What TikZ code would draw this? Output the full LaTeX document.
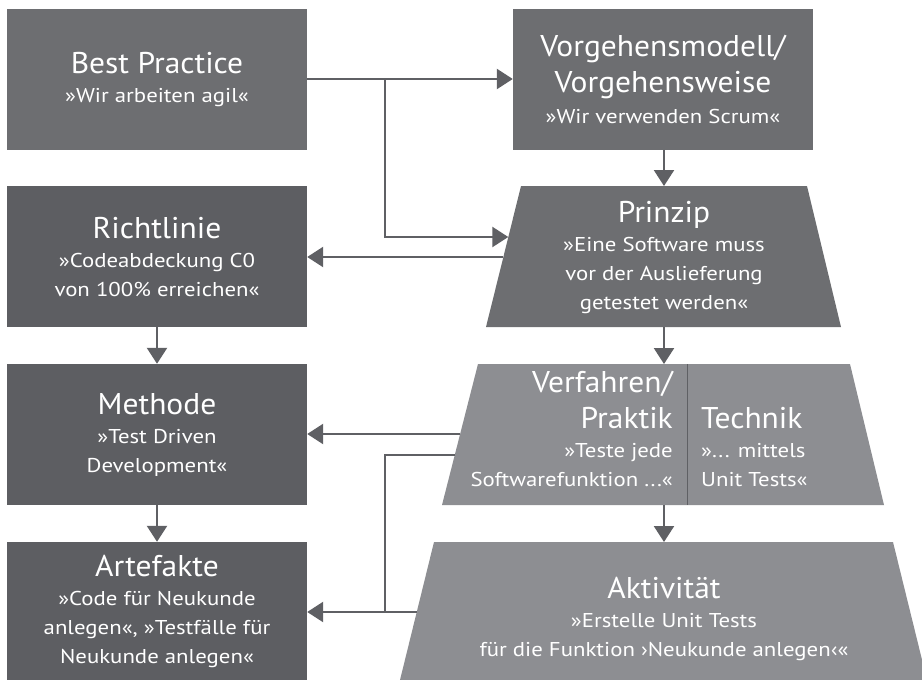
\documentclass[tikz,border=0pt]{standalone}
\usepackage{fontspec}
\setmainfont{PT Sans}[FakeStretch=1.14]
\newfontfamily\titlefont{PT Sans}[FakeStretch=1.05]
\usetikzlibrary{arrows.meta}

\definecolor{midgray}{HTML}{6D6E71}
\definecolor{darkgray}{HTML}{5D5E62}
\definecolor{lightgray}{HTML}{8D8E92}
\definecolor{linegray}{HTML}{5F6064}

\newcommand{\boxtitle}[1]{{\titlefont\fontsize{30}{38}\selectfont #1}}

\begin{document}
\begin{tikzpicture}[x=1pt,y=-1pt,
  every node/.style={text=white, font=\fontsize{20}{29}\selectfont},
  block/.style={rectangle, inner sep=0pt, minimum width=300pt, minimum height=141pt, align=center},
  caption/.style={inner sep=0pt},
  conn/.style={draw=linegray, line width=2.4pt},
  arr/.style={conn, -{Triangle[length=16pt,width=20pt]}}
]
\useasboundingbox (0,0) rectangle (922,680);
\clip (0,0) rectangle (922,680);

% rectangular blocks
\node[block, fill=midgray] (best) at (157,79)
  {\boxtitle{Best Practice}\\ »Wir arbeiten agil«};
\node[block, fill=midgray] (model) at (663,79)
  {\boxtitle{Vorgehensmodell/}\\[7pt] \boxtitle{Vorgehensweise}\\[2pt] »Wir verwenden Scrum«};
\node[block, fill=darkgray] (rule) at (157,256.5)
  {\boxtitle{Richtlinie}\\ »Codeabdeckung C0\\ von 100\% erreichen«};
\node[block, fill=darkgray] (method) at (157,434.5)
  {\boxtitle{Methode}\\ »Test Driven\\ Development«};
\node[block, fill=darkgray, minimum height=138pt] (artefacts) at (157,611)
  {\boxtitle{Artefakte}\\ »Code für Neukunde\\ anlegen«, »Testfälle für\\ Neukunde anlegen«};

% trapezoids
\fill[midgray] (521,186) -- (807,186) -- (841,327) -- (486,327) -- cycle;
\fill[lightgray] (478,364) -- (850,364) -- (884,505) -- (442,505) -- cycle;
\draw[linegray, line width=1pt] (687,364) -- (687,505);
\fill[lightgray] (434,542) -- (893,542) -- (927,680) -- (400,680) -- cycle;

\node[caption, align=center] (principle) at (664,257)
  {\boxtitle{Prinzip}\\ »Eine Software muss\\ vor der Auslieferung\\ getestet werden«};
\node[caption, align=right, anchor=south east] (practice) at (673,487)
  {\boxtitle{Verfahren/}\\[7pt] \boxtitle{Praktik}\\ »Teste jede\\ Softwarefunktion ...«};
\node[caption, align=left, anchor=south west] (technique) at (701,487)
  {\boxtitle{Technik}\\ »... mittels\\ Unit Tests«};
\node[caption, align=center] (activity) at (664,619)
  {\boxtitle{Aktivität}\\ »Erstelle Unit Tests\\ für die Funktion ›Neukunde anlegen‹«};

% attachment points on the slanted edges
\coordinate (principle-top) at (664,186);
\coordinate (principle-bottom) at (664,327);
\coordinate (principle-in) at (508.3,237);
\coordinate (principle-out) at (503.4,257);
\coordinate (practice-top) at (664,364);
\coordinate (practice-bottom) at (664,505);
\coordinate (practice-out) at (460,434);
\coordinate (practice-out2) at (455,455);
\coordinate (activity-top) at (664,542);
\coordinate (activity-out) at (416.6,612);
\coordinate (split) at (385,79);
\coordinate (merge) at (385,612);

% connectors
\draw[arr] (best.east) -- (model.west);
\draw[arr] (split) |- (principle-in);
\draw[arr] (model.south -| principle-top) -- (principle-top);
\draw[arr] (principle-out) -- (principle-out -| rule.east);
\draw[arr] (principle-bottom) -- (practice-top);
\draw[arr] (rule.south) -- (method.north);
\draw[arr] (method.south) -- (artefacts.north);
\draw[arr] (practice-out) -- (practice-out -| method.east);
\draw[arr] (practice-bottom) -- (activity-top);
\draw[arr] (activity-out) -- (activity-out -| artefacts.east);
\draw[conn] (practice-out2) -| (merge);
\end{tikzpicture}
\end{document}
